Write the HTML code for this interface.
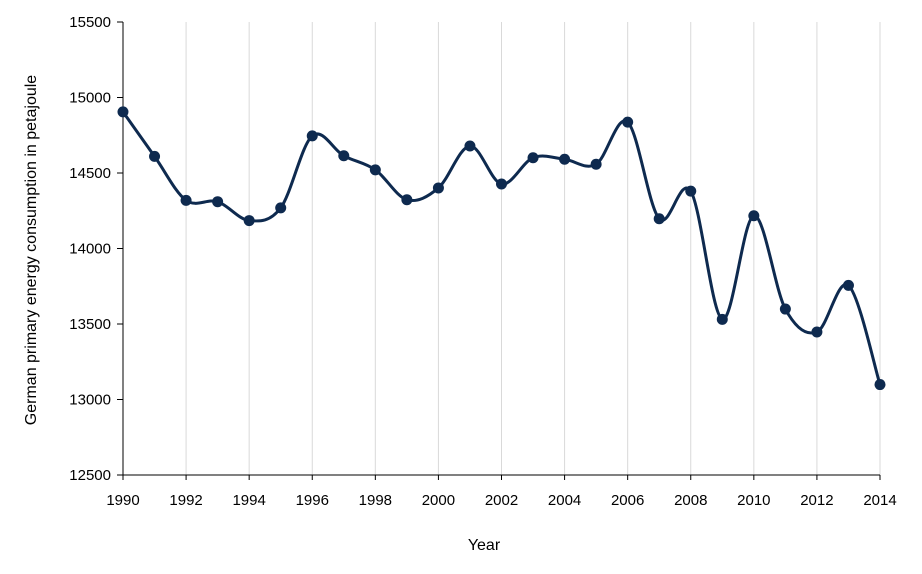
<!DOCTYPE html>
<html><head><meta charset="utf-8"><style>
body{margin:0;background:#fff;font-family:"Liberation Sans",sans-serif;}
svg text{font-family:"Liberation Sans",sans-serif;font-size:15px;fill:#000;}
</style></head><body>
<svg id="chart" width="922" height="569" xmlns="http://www.w3.org/2000/svg">
<g id="grid"></g>
<g id="axes"></g>
<path id="line" fill="none" stroke="#0e2a4f" stroke-width="3"/>
<g id="points"></g>
<text x="484" y="550" text-anchor="middle" style="font-size:16px">Year</text>
<text transform="translate(36,250) rotate(-90)" text-anchor="middle" style="font-size:16px">German primary energy consumption in petajoule</text>
</svg>
<script>
const years=[1990,1991,1992,1993,1994,1995,1996,1997,1998,1999,2000,2001,2002,2003,2004,2005,2006,2007,2008,2009,2010,2011,2012,2013,2014];
const values=[14905,14610,14319,14310,14185,14269,14746,14614,14521,14323,14401,14679,14427,14601,14591,14558,14837,14197,14380,13531,14217,13599,13447,13756,13099];
const yTicks=[12500,13000,13500,14000,14500,15000,15500];
const xTicks=[1990,1992,1994,1996,1998,2000,2002,2004,2006,2008,2010,2012,2014];
const X0=123,X1=880,Y0=475,Y1=22;
const sx=v=>X0+(v-1990)/(2014-1990)*(X1-X0);
const sy=v=>Y0-(v-12500)/(15500-12500)*(Y0-Y1);
const NS="http://www.w3.org/2000/svg";
function mk(t,a,p){const e=document.createElementNS(NS,t);for(const k in a)e.setAttribute(k,a[k]);p.appendChild(e);return e;}
const grid=document.getElementById('grid'),axes=document.getElementById('axes');
xTicks.forEach(t=>{if(t!==1990){const l=mk('line',{x1:sx(t),x2:sx(t),y1:Y1,y2:Y0,stroke:'#d9d9d9','stroke-width':1},grid);

}
const tk=mk('line',{x1:sx(t),x2:sx(t),y1:Y0,y2:Y0+5,stroke:'#000'},axes);


const tx=mk('text',{x:sx(t),y:Y0+30,'text-anchor':'middle'},axes);tx.textContent=t;

});
yTicks.forEach(t=>{const tk=mk('line',{x1:X0-6,x2:X0,y1:sy(t),y2:sy(t),stroke:'#000'},axes);


const tx=mk('text',{x:X0-12,y:sy(t)+5,'text-anchor':'end'},axes);tx.textContent=t;

});
const ya=mk('line',{x1:X0,x2:X0,y1:Y1,y2:Y0,stroke:'#000'},axes);


const xa=mk('line',{x1:X0,x2:X1,y1:Y0,y2:Y0,stroke:'#000'},axes);


const P=years.map((y,i)=>[sx(y),sy(values[i])]);
let d='M'+P[0][0]+','+P[0][1];
for(let i=0;i<P.length-1;i++){const p0=P[Math.max(i-1,0)],p1=P[i],p2=P[i+1],p3=P[Math.min(i+2,P.length-1)];
const c1=[p1[0]+(p2[0]-p0[0])/6,p1[1]+(p2[1]-p0[1])/6],c2=[p2[0]-(p3[0]-p1[0])/6,p2[1]-(p3[1]-p1[1])/6];
d+=' C'+c1+' '+c2+' '+p2;}
document.getElementById('line').setAttribute('d',d);
const pts=document.getElementById('points');
P.forEach((p,i)=>{const c=mk('circle',{cx:p[0],cy:p[1],r:5.5,fill:'#0e2a4f'},pts);

});
</script>
</body></html>
